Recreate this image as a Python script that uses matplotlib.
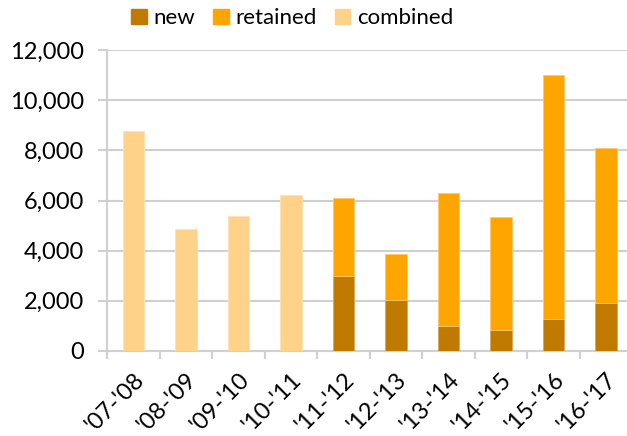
import matplotlib.pyplot as plt
from matplotlib.patches import Patch
from matplotlib.ticker import FuncFormatter

plt.rcParams['font.family'] = ['Lato', 'DejaVu Sans']

seasons = ["'07-'08", "'08-'09", "'09-'10", "'10-'11", "'11-'12",
           "'12-'13", "'13-'14", "'14-'15", "'15-'16", "'16-'17"]
combined = [8760, 4860, 5390, 6240, 0, 0, 0, 0, 0, 0]
new = [0, 0, 0, 0, 2980, 2020, 990, 840, 1250, 1900]
total = [0, 0, 0, 0, 6100, 3850, 6300, 5330, 11010, 8090]
retained = [t - n for t, n in zip(total, new)]

c_new = '#C17A00'
c_ret = '#FFA500'
c_comb = '#FFD28A'
grid_c = '#D0D0D0'

fig = plt.figure(figsize=(6.27, 4.36), dpi=100)
ax = fig.add_axes([0.171, 0.1956, 0.837, 0.689])

x = range(len(seasons))
w = 0.41
ax.bar(x, combined, w, color=c_comb, edgecolor='#FFE2B0', linewidth=0.6, zorder=3)
ax.bar(x, new, w, color=c_new, edgecolor='#D9A65A', linewidth=0.6, zorder=3)
ax.bar(x, retained, w, bottom=new, color=c_ret, edgecolor='#FFC870', linewidth=0.6, zorder=3)

ax.set_xlim(-0.5, len(seasons) - 0.5)
ax.set_ylim(0, 12000)
ax.set_yticks(range(0, 12001, 2000))
ax.yaxis.set_major_formatter(FuncFormatter(lambda v, p: f'{int(v):,}'))
ax.grid(axis='y', color=grid_c, linewidth=1.5, zorder=0)

ax.set_xticks(list(x))
ax.set_xticklabels(seasons, rotation=45, ha='right', rotation_mode='anchor')
ax.set_xticks([i - 0.5 for i in range(len(seasons) + 1)], minor=True)
ax.tick_params(axis='x', which='major', length=0, labelsize=17, pad=13)
ax.tick_params(axis='x', which='minor', length=6, width=1.5, color=grid_c)
ax.tick_params(axis='y', length=6.5, width=1.5, color=grid_c, labelsize=17, pad=10)

for s in ['top', 'right']:
    ax.spines[s].set_visible(False)
for s in ['left', 'bottom']:
    ax.spines[s].set_color(grid_c)
    ax.spines[s].set_linewidth(1.5)
ax.set_axisbelow(True)

handles = [Patch(color=c_new, label='new'),
           Patch(color=c_ret, label='retained'),
           Patch(color=c_comb, label='combined')]
fig.legend(handles=handles, loc='center', bbox_to_anchor=(0.466, 0.958), ncol=3,
           frameon=False, fontsize=16, handlelength=0.7, handleheight=0.7,
           handletextpad=0.3, columnspacing=0.8)

fig.savefig('out.png', dpi=100)
